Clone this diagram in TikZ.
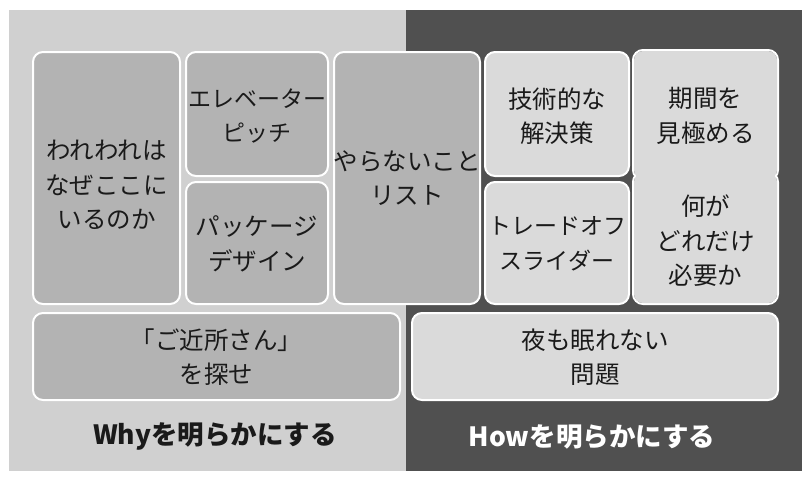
\documentclass[tikz,border=0pt]{standalone}
\usepackage{fontspec}
\setmainfont{Noto Sans CJK JP}
\definecolor{lightpanel}{HTML}{D0D0D0}
\definecolor{darkpanel}{HTML}{505050}
\definecolor{lbox}{HTML}{B3B3B3}
\definecolor{rbox}{HTML}{DADADA}
\definecolor{ink}{HTML}{1A1A1A}
\tikzset{
  cell/.style={draw=white, line width=2pt, rounded corners=10pt},
  lcell/.style={cell, fill=lbox},
  rcell/.style={cell, fill=rbox},
  celltext/.style={text=ink, font=\fontsize{24.5}{34.5}\selectfont, align=center, inner sep=0pt},
  footer/.style={font=\fontsize{26.5}{30}\selectfont\bfseries, inner sep=0pt}
}
\begin{document}
\begin{tikzpicture}[x=1pt,y=-1pt]
\useasboundingbox (0,0) rectangle (808,480);
\fill[white] (0,0) rectangle (808,480);
\fill[lightpanel] (9,10) rectangle (406,471);
\fill[darkpanel] (406,10) rectangle (802,471);
% left boxes
\draw[lcell] (33,52) rectangle (180,304);
\node[celltext] (why) at (106.5,185) {われわれは\\なぜここに\\いるのか};
\draw[lcell] (186,52) rectangle (328,176);
\node[celltext, font=\fontsize{23}{34.5}\selectfont] (pitch) at (257,116) {エレベーター\\ピッチ};
\draw[lcell] (186,182) rectangle (328,304);
\node[celltext] (pkg) at (257,244) {パッケージ\\デザイン};
\draw[lcell] (334,52) rectangle (480,304);
\node[celltext] (notlist) at (407,178) {やらないこと\\リスト};
\draw[lcell] (33,313) rectangle (400,400);
\node[celltext] (nbr) at (216.5,357) {「ご近所さん」\\を探せ};
% right boxes
\draw[rcell] (485,52) rectangle (629,176);
\node[celltext] (tech) at (557,116) {技術的な\\解決策};
\draw[rcell] (485,182) rectangle (629,304);
\node[celltext, font=\fontsize{23}{34.5}\selectfont] (slider) at (557,244) {トレードオフ\\スライダー};
\draw[cell] (633,50) rectangle (778,180);
\draw[cell] (633,172) rectangle (778,304);
\fill[rbox, rounded corners=9pt] (634,51) rectangle (777,179);
\fill[rbox, rounded corners=9pt] (634,173) rectangle (777,303);
\node[celltext] (period) at (705.5,116) {期間を\\見極める};
\node[celltext] (need) at (705.5,241) {何が\\どれだけ\\必要か};
\draw[rcell] (412,313) rectangle (778,400);
\node[celltext] (night) at (595,357) {夜も眠れない\\問題};
% footers
\node[footer, text=ink] (whylabel) at (215,437) {Whyを明らかにする};
\node[footer, text=white] (howlabel) at (592,437) {Howを明らかにする};
\end{tikzpicture}
\end{document}
